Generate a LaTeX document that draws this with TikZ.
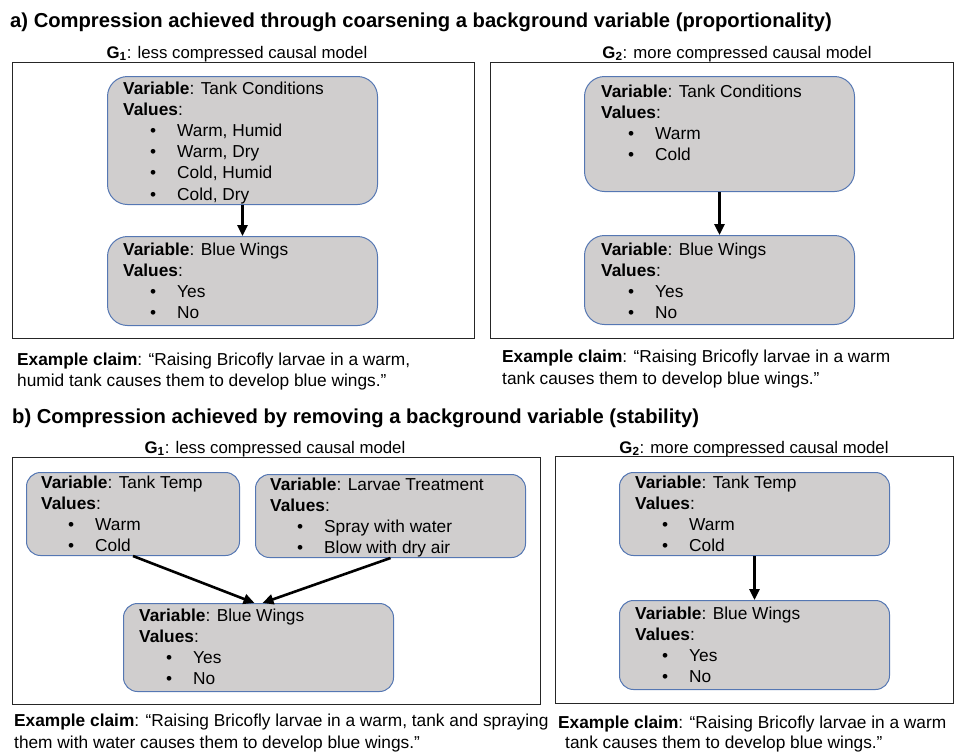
\documentclass[tikz,border=0pt]{standalone}
\usepackage{fontspec}
\setmainfont{Liberation Sans}
\usetikzlibrary{arrows.meta,calc}
\definecolor{boxfill}{HTML}{D0CECE}
\definecolor{boxline}{HTML}{5577B3}
\newcommand\vtext[5]{%
  \node[txt] (#1-v) at (#2,#3) {\textbf{Variable}: #4};
  \node[txt] (#1-l) at (#2,#3+21.2) {\textbf{Values}:};
  \foreach \w [count=\i] in {#5} {
    \node[txt] (#1-b\i) at (#2+27,#3+21.2+21.2*\i) {•};
    \node[txt] (#1-t\i) at (#2+54,#3+21.2+21.2*\i) {\w};
  }%
}
\begin{document}
\begin{tikzpicture}[x=1pt,y=-1pt,
  txt/.style={anchor=base west, inner sep=0pt, font=\fontsize{17.3}{20}\selectfont},
  lab/.style={anchor=base, inner sep=0pt, font=\fontsize{16.8}{20}\selectfont},
  ttl/.style={anchor=base west, inner sep=0pt, font=\fontsize{20.2}{24}\selectfont\bfseries},
  outer/.style={draw=black!85, line width=1.1pt, anchor=north west, inner sep=0pt},
  vboxa/.style={draw=boxline, fill=boxfill, line width=1pt, rounded corners=20pt, anchor=north west, inner sep=0pt},
  vboxb/.style={draw=boxline, fill=boxfill, line width=1pt, rounded corners=14pt, anchor=north west, inner sep=0pt},
  arr/.style={line width=2.6pt, -{Triangle[length=11pt,width=10pt]}}
]
\useasboundingbox (0,0) rectangle (958,753);

% ---------- part a ----------
\node[ttl] (ta) at (10,27) {a) Compression achieved through coarsening a background variable (proportionality)};
\node[lab] (ga1) at (237,58) {\textbf{G\textsubscript{1}}: less compressed causal model};
\node[lab] (ga2) at (737,58) {\textbf{G\textsubscript{2}}: more compressed causal model};

\node[outer, minimum width=462pt, minimum height=276pt] (oa1) at (12,62) {};
\node[outer, minimum width=463pt, minimum height=276pt] (oa2) at (490,62) {};

\node[vboxa, minimum width=270pt, minimum height=128pt] (a1tc) at (107,76) {};
\node[vboxa, minimum width=270pt, minimum height=89pt] (a1bw) at (107,236) {};
\node[vboxa, minimum width=270pt, minimum height=115pt] (a2tc) at (584,76) {};
\node[vboxa, minimum width=270pt, minimum height=89pt] (a2bw) at (584,235) {};

\vtext{a1tcx}{123}{94}{Tank Conditions}{{Warm, Humid},{Warm, Dry},{Cold, Humid},{Cold, Dry}}
\vtext{a1bwx}{123}{255}{Blue Wings}{Yes,No}
\vtext{a2tcx}{601}{97}{Tank Conditions}{Warm,Cold}
\vtext{a2bwx}{601}{255}{Blue Wings}{Yes,No}

\draw[arr] (a1tc) -- (a1bw);
\draw[arr] (a2tc) -- (a2bw);

\node[txt] (ea1) at (17,365) {\textbf{Example claim}: “Raising Bricofly larvae in a warm,};
\node[txt] (ea2) at (17,386) {humid tank causes them to develop blue wings.”};
\node[txt] (eb1) at (502,362) {\textbf{Example claim}: “Raising Bricofly larvae in a warm};
\node[txt] (eb2) at (502,384) {tank causes them to develop blue wings.”};

% ---------- part b ----------
\node[ttl] (tb) at (12,423) {b) Compression achieved by removing a background variable (stability)};
\node[lab] (gb1) at (275,453) {\textbf{G\textsubscript{1}}: less compressed causal model};
\node[lab] (gb2) at (754,453) {\textbf{G\textsubscript{2}}: more compressed causal model};

\node[outer, minimum width=528pt, minimum height=247pt] (ob1) at (12,457) {};
\node[outer, minimum width=398pt, minimum height=247pt] (ob2) at (555,456) {};

\node[vboxb, minimum width=213pt, minimum height=83pt] (b1tt) at (26,472) {};
\node[vboxb, minimum width=270pt, minimum height=83pt] (b1lt) at (255,474) {};
\node[vboxb, minimum width=270pt, minimum height=88pt] (b1bw) at (123,603) {};
\node[vboxb, minimum width=270pt, minimum height=83pt] (b2tt) at (619,472) {};
\node[vboxb, minimum width=270pt, minimum height=89pt] (b2bw) at (619,600) {};

\vtext{b1ttx}{41}{488}{Tank Temp}{Warm,Cold}
\vtext{b1ltx}{270}{490}{Larvae Treatment}{{Spray with water},{Blow with dry air}}
\vtext{b1bwx}{139}{621}{Blue Wings}{Yes,No}
\vtext{b2ttx}{635}{488}{Tank Temp}{Warm,Cold}
\vtext{b2bwx}{635}{619}{Blue Wings}{Yes,No}

\draw[arr] (b1tt.south) -- ($(b1bw.north)+(-4,0)$);
\draw[arr] (b1lt.south) -- ($(b1bw.north)+(4,0)$);
\draw[arr] (b2tt) -- (b2bw);

\node[txt] (ec1) at (14,726) {\textbf{Example claim}: “Raising Bricofly larvae in a warm, tank and spraying};
\node[txt] (ec2) at (14,748) {them with water causes them to develop blue wings.”};
\node[txt] (ed1) at (558,728) {\textbf{Example claim}: “Raising Bricofly larvae in a warm};
\node[txt] (ed2) at (565,748) {tank causes them to develop blue wings.”};
\end{tikzpicture}
\end{document}
